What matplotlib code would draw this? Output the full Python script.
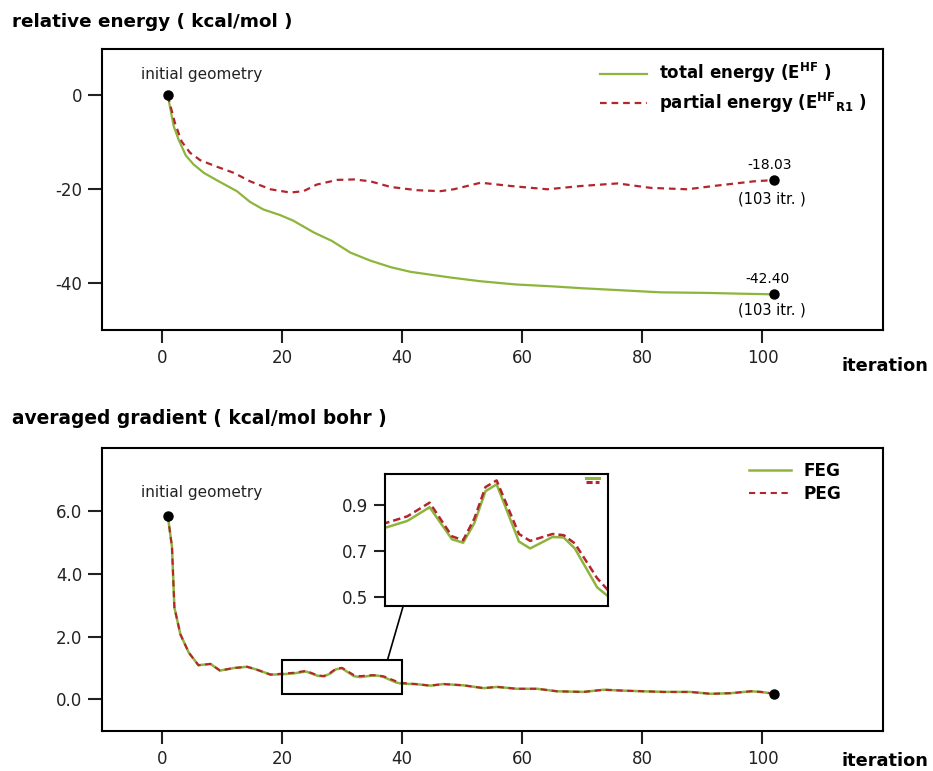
import matplotlib
matplotlib.use('Agg')
import matplotlib.pyplot as plt
from matplotlib.patches import Rectangle, ConnectionPatch
from matplotlib.lines import Line2D

# relative energy (kcal/mol) vs iteration
itr_total = [1, 2, 2.8, 4, 5.3, 7, 9.2, 12.5, 14.7, 16.9, 19.7, 21.9, 25.3, 28.3, 31.4, 34.7, 38.1,
             41.4, 48, 53, 59, 65, 70, 76, 83, 91, 96, 102]
e_total = [0, -6.6, -9.4, -12.8, -14.7, -16.5, -18.1, -20.4, -22.7, -24.3, -25.5, -26.7, -29.2, -31.0,
           -33.5, -35.2, -36.6, -37.6, -38.8, -39.6, -40.3, -40.7, -41.1, -41.5, -41.97, -42.1, -42.25, -42.40]

itr_partial = [1, 2.2, 3.3, 4.7, 6.4, 9.2, 12.0, 14.7, 18.1, 21.4, 23.6, 25.8, 29.2, 32.0, 34.7, 38.1,
               42.5, 46.4, 48.6, 53.1, 58.1, 64.2, 69.8, 75.9, 81.4, 87.5, 92.5, 98.6, 102]
e_partial = [0, -5.9, -9.8, -12.2, -13.8, -15.2, -16.5, -18.3, -20.0, -20.7, -20.4, -19.0, -18.0, -17.9,
             -18.3, -19.5, -20.2, -20.4, -20.0, -18.6, -19.3, -20.0, -19.3, -18.75, -19.7, -20.0, -19.2,
             -18.3, -18.03]

# averaged gradient (kcal/mol bohr) vs iteration
itr_grad = [1, 1.7, 2.1, 3.1, 4.5, 6.1, 8.1, 9.7, 12, 14.2, 15.8, 18.1, 20, 22, 24, 26, 27, 28, 29, 30,
            32, 33, 35, 36, 37, 39, 40, 42.2, 44.7, 46.9, 50.2, 53.6, 55.8, 59.1, 62.5, 65.8, 70.2, 73.6,
            76.9, 80.2, 83.6, 88, 91.4, 94.7, 98.1, 99.7, 102]
feg = [5.85, 4.85, 2.93, 2.07, 1.49, 1.09, 1.13, 0.92, 1.0, 1.04, 0.95, 0.79, 0.80, 0.83, 0.89, 0.75,
       0.735, 0.82, 0.96, 0.99, 0.74, 0.71, 0.76, 0.758, 0.71, 0.54, 0.50, 0.49, 0.44, 0.49, 0.45, 0.36,
       0.40, 0.34, 0.34, 0.26, 0.24, 0.31, 0.28, 0.26, 0.24, 0.24, 0.18, 0.20, 0.26, 0.24, 0.18]
peg = [5.85, 4.85, 2.93, 2.07, 1.49, 1.09, 1.13, 0.92, 1.0, 1.04, 0.95, 0.79, 0.82, 0.85, 0.91, 0.763,
       0.746, 0.84, 0.978, 1.007, 0.773, 0.743, 0.773, 0.768, 0.732, 0.58, 0.526, 0.49, 0.44, 0.49, 0.45,
       0.36, 0.40, 0.34, 0.34, 0.26, 0.24, 0.31, 0.28, 0.26, 0.24, 0.24, 0.18, 0.20, 0.26, 0.24, 0.18]

green = '#8db53c'
red = '#b3262d'

plt.rcParams['font.family'] = 'DejaVu Sans'
plt.rcParams['axes.unicode_minus'] = False

fig = plt.figure(figsize=(9.33, 7.71), dpi=100)

def style_axes(ax):
    for s in ax.spines.values():
        s.set_linewidth(1.5)
    ax.tick_params(axis='y', width=1.5, length=10, labelsize=12, pad=4, colors='#222222')
    ax.tick_params(axis='x', width=1.5, length=9, labelsize=12, pad=5, colors='#222222')

# ---- top panel ----
ax1 = fig.add_axes([0.109, 0.572, 0.837, 0.365])
ax1.plot(itr_total, e_total, color=green, lw=1.6, label=r'total energy (E$^{\bf HF}$ )')
ax1.plot(itr_partial, e_partial, color=red, lw=1.6, ls=(0, (3, 2.2)),
         label=r'partial energy (E$^{\bf HF}{}_{\bf R1}$ )')
ax1.plot([1], [0], 'o', color='black', ms=6.5, zorder=5)
ax1.plot([itr_total[-1]], [e_total[-1]], 'o', color='black', ms=6.5, zorder=5)
ax1.plot([itr_partial[-1]], [e_partial[-1]], 'o', color='black', ms=6.5, zorder=5)
ax1.text(6.7, 4.4, 'initial geometry', fontsize=11, ha='center', va='center', color='#222222')
ax1.text(itr_partial[-1] - 0.8, e_partial[-1] + 3.2, '%.2f' % e_partial[-1], fontsize=10, ha='center', va='center')
ax1.text(itr_partial[-1] - 0.5, e_partial[-1] - 4.0, '(103 itr. )', fontsize=10.5, ha='center', va='center')
ax1.text(itr_total[-1] - 1.1, e_total[-1] + 3.2, '%.2f' % e_total[-1], fontsize=10, ha='center', va='center')
ax1.text(itr_total[-1] - 0.5, e_total[-1] - 3.4, '(103 itr. )', fontsize=10.5, ha='center', va='center')
ax1.set_xlim(-10, 120)
ax1.set_ylim(-50, 10)
ax1.set_xticks([0, 20, 40, 60, 80, 100])
ax1.set_yticks([0, -20, -40])
style_axes(ax1)
ax1.legend(loc='upper left', bbox_to_anchor=(0.638, 0.955), frameon=False, borderpad=0,
           borderaxespad=0, handlelength=2.85, handletextpad=0.7, labelspacing=0.35,
           prop={'weight': 'bold', 'size': 12})

fig.text(0.0125, 0.972, 'relative energy ( kcal/mol )', fontsize=13.2, weight='bold', va='center')
fig.text(0.995, 1 - 366 / 771, 'iteration', fontsize=12.8, weight='bold', ha='right', va='center')

# ---- bottom panel ----
ax2 = fig.add_axes([0.109, 0.052, 0.837, 0.367])
ax2.plot(itr_grad, feg, color=green, lw=1.8, label='FEG')
ax2.plot(itr_grad, peg, color=red, lw=1.5, ls=(0, (3, 2.2)), label='PEG')
ax2.plot([1], [feg[0]], 'o', color='black', ms=6.5, zorder=5)
ax2.plot([itr_grad[-1]], [feg[-1]], 'o', color='black', ms=6.5, zorder=5)
ax2.text(6.7, 6.58, 'initial geometry', fontsize=11, ha='center', va='center', color='#222222')
ax2.set_xlim(-10, 120)
ax2.set_ylim(-1, 8)
ax2.set_xticks([0, 20, 40, 60, 80, 100])
ax2.set_yticks([0, 2, 4, 6])
ax2.set_yticklabels(['0.0', '2.0', '4.0', '6.0'])
style_axes(ax2)
ax2.legend(loc='upper left', bbox_to_anchor=(0.829, 0.95), frameon=False, borderpad=0,
           borderaxespad=0, handlelength=2.5, handletextpad=0.7, labelspacing=0.3,
           prop={'weight': 'bold', 'size': 12.2})
ax2.add_patch(Rectangle((20, 0.18), 20, 1.09, fill=False, lw=1.5, ec='black', zorder=6))

fig.text(0.0125, 1 - 419 / 771, 'averaged gradient ( kcal/mol bohr )', fontsize=13.4, weight='bold', va='center')
fig.text(0.995, 1 - 761 / 771, 'iteration', fontsize=12.8, weight='bold', ha='right', va='center')

# ---- inset ----
axin = fig.add_axes([0.4126, 0.2144, 0.2394, 0.1708])
axin.plot(itr_grad, feg, color=green, lw=1.8)
axin.plot(itr_grad, peg, color=red, lw=1.8, ls=(0, (3, 1.6)))
axin.set_xlim(20, 40)
axin.set_ylim(0.46, 1.035)
axin.set_xticks([])
axin.set_yticks([0.5, 0.7, 0.9])
style_axes(axin)
axin.tick_params(axis='y', length=8)
h = [Line2D([], [], color=green, lw=2.2), Line2D([], [], color=red, lw=2.2, ls=(0, (2, 1)))]
axin.legend(h, ['', ''], loc='upper right', bbox_to_anchor=(0.96, 0.985), frameon=False,
            handlelength=3.1, handletextpad=0, fontsize=3, borderpad=0, borderaxespad=0,
            labelspacing=0.1)

con = ConnectionPatch(xyA=(37.6, 1.27), coordsA=ax2.transData, xyB=(0.082, 0), coordsB=axin.transAxes,
                      color='black', lw=1.2)
fig.add_artist(con)

fig.savefig('out.png', dpi=100)
